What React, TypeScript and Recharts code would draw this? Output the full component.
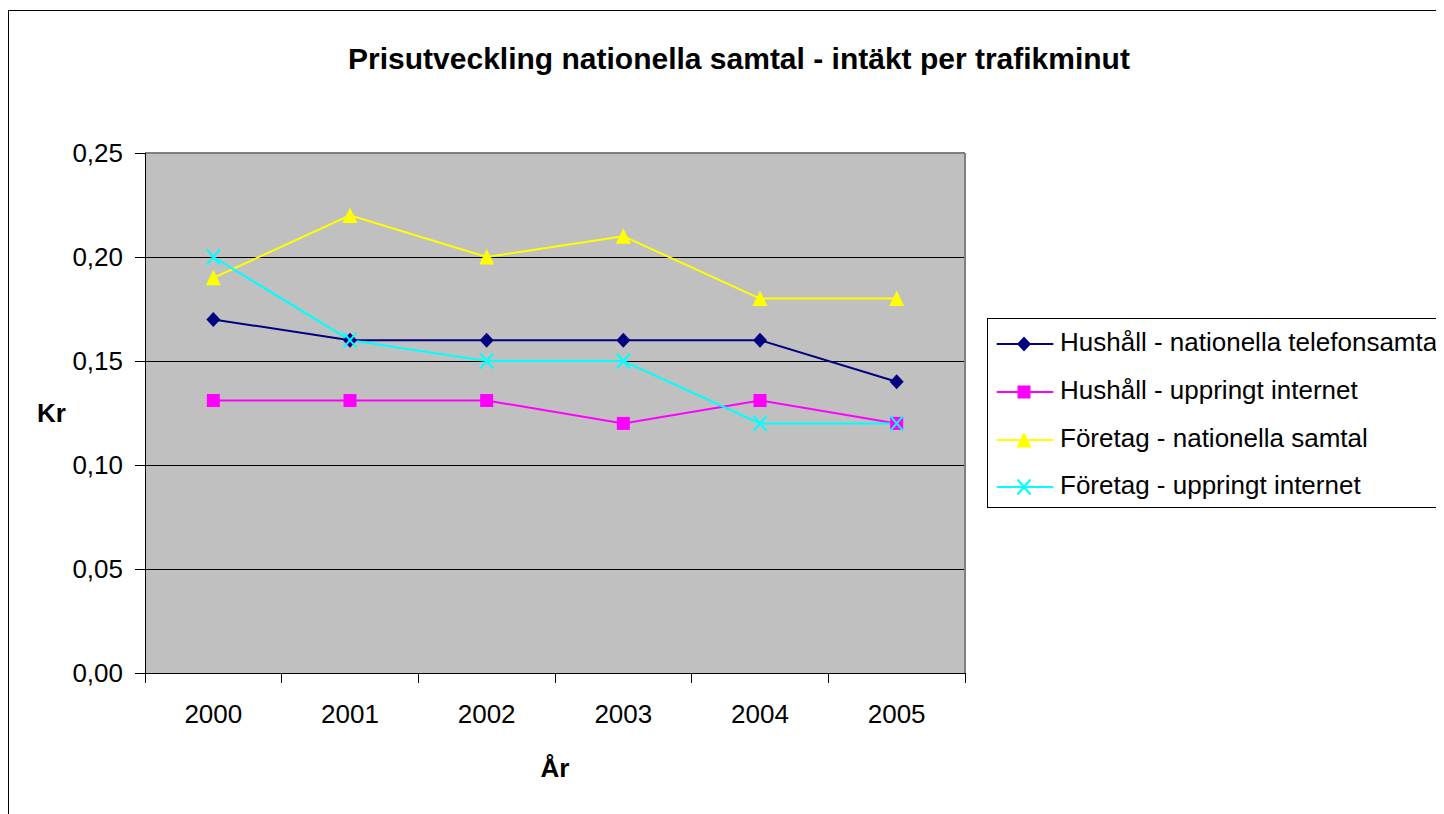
import {
  LineChart,
  Line,
  XAxis,
  YAxis,
  CartesianGrid,
  Legend,
  ReferenceLine,
  Label,
} from "recharts";

const years = ["2000", "2001", "2002", "2003", "2004", "2005"];
const hushallSamtal = [0.17, 0.16, 0.16, 0.16, 0.16, 0.14];
const hushallInternet = [0.131, 0.131, 0.131, 0.12, 0.131, 0.12];
const foretagSamtal = [0.19, 0.22, 0.2, 0.21, 0.18, 0.18];
const foretagInternet = [0.2, 0.16, 0.15, 0.15, 0.12, 0.12];
const yTicks = [0, 0.05, 0.1, 0.15, 0.2, 0.25];
const gridValues = [0.05, 0.1, 0.15, 0.2];

const FONT = "'Liberation Sans', Arial, sans-serif";
const PLOT_W = 820;
const BAND = PLOT_W / years.length;

const data = years.map((year, i) => ({
  x: i,
  year,
  hs: hushallSamtal[i],
  hi: hushallInternet[i],
  fs: foretagSamtal[i],
  fi: foretagInternet[i],
}));

type Shape = "diamond" | "square" | "triangle" | "cross";

const series: { key: string; name: string; color: string; shape: Shape }[] = [
  { key: "hs", name: "Hushåll - nationella telefonsamtal", color: "#000080", shape: "diamond" },
  { key: "hi", name: "Hushåll - uppringt internet", color: "#FF00FF", shape: "square" },
  { key: "fs", name: "Företag - nationella samtal", color: "#FFFF00", shape: "triangle" },
  { key: "fi", name: "Företag - uppringt internet", color: "#00FFFF", shape: "cross" },
];

function Marker({ shape, cx, cy, color }: { shape: Shape; cx: number; cy: number; color: string }) {
  if (cx == null || cy == null) return null;
  switch (shape) {
    case "diamond":
      return <polygon points={`${cx},${cy - 7.5} ${cx + 7},${cy} ${cx},${cy + 7.5} ${cx - 7},${cy}`} fill={color} />;
    case "square":
      return <rect x={cx - 6.5} y={cy - 6.5} width={13} height={13} fill={color} />;
    case "triangle":
      return <polygon points={`${cx},${cy - 8} ${cx + 7.5},${cy + 7.5} ${cx - 7.5},${cy + 7.5}`} fill={color} />;
    default:
      return (
        <path
          d={`M${cx - 6.5},${cy - 7.5}L${cx + 6.5},${cy + 7.5}M${cx + 6.5},${cy - 7.5}L${cx - 6.5},${cy + 7.5}`}
          stroke={color}
          strokeWidth={2}
          fill="none"
        />
      );
  }
}

// labels sit in the middle of each year, tick marks on the boundaries (Excel style)
function YearTick(props: any) {
  const { x, y, payload, index } = props;
  const half = BAND / 2;
  return (
    <g>
      <line x1={x - half} x2={x - half} y1={y} y2={y + 10} stroke="#000" shapeRendering="crispEdges" />
      {index === years.length - 1 && (
        <line x1={x + half} x2={x + half} y1={y} y2={y + 10} stroke="#000" shapeRendering="crispEdges" />
      )}
      <text x={x} y={y + 32} dy="0.71em" textAnchor="middle" fontSize={26} fill="#000" fontFamily={FONT}>
        {years[payload.value]}
      </text>
    </g>
  );
}

function LegendBox() {
  return (
    <div
      style={{
        width: 600,
        height: 190,
        boxSizing: "border-box",
        border: "1px solid #000",
        background: "#fff",
        paddingTop: 1.5,
        fontFamily: FONT,
        fontSize: 26,
        color: "#000",
      }}
    >
      {series.map((s) => (
        <div key={s.key} style={{ height: 47.7, display: "flex", alignItems: "center" }}>
          <svg width={72} height={20} style={{ flex: "none" }}>
            <line x1={8.7} x2={65.3} y1={10} y2={10} stroke={s.color} strokeWidth={2} />
            <Marker shape={s.shape} cx={36} cy={10} color={s.color} />
          </svg>
          <span style={{ whiteSpace: "nowrap", lineHeight: 1, position: "relative", top: -2 }}>{s.name}</span>
        </div>
      ))}
    </div>
  );
}

export default function App() {
  return (
    <div style={{ position: "relative", width: 1436, height: 806, overflow: "hidden", fontFamily: FONT }}>
      <style>{"html,body{overflow:hidden}"}</style>
      <div
        style={{
          position: "absolute",
          left: 0,
          top: 2,
          width: 1600,
          height: 1000,
          border: "1px solid #000",
        }}
      />
      <div
        style={{
          position: "absolute",
          left: 331,
          top: 36,
          width: 800,
          textAlign: "center",
          fontSize: 30,
          lineHeight: "30px",
          fontWeight: 700,
          color: "#000",
          whiteSpace: "nowrap",
        }}
      >
        Prisutveckling nationella samtal - intäkt per trafikminut
      </div>
      <LineChart
        width={1436}
        height={806}
        data={data}
        margin={{ top: 145, right: 479, bottom: 0, left: 0 }}
      >
        <CartesianGrid
          vertical={false}
          horizontalValues={gridValues}
          stroke="#000"
          fill="#C0C0C0"
          fillOpacity={1}
          shapeRendering="crispEdges"
        />
        <XAxis
          dataKey="x"
          type="number"
          domain={[-0.5, years.length - 0.5]}
          ticks={years.map((_, i) => i)}
          interval={0}
          height={141}
          axisLine={{ stroke: "#000", shapeRendering: "crispEdges" }}
          tickLine={false}
          tickSize={0}
          tickMargin={0}
          tick={<YearTick />}
        >
          <Label
            value="År"
            position="insideBottom"
            offset={37}
            fontSize={26}
            fontWeight={700}
            fill="#000"
            fontFamily={FONT}
          />
        </XAxis>
        <YAxis
          width={137}
          domain={[0, 0.25]}
          ticks={yTicks}
          interval={0}
          axisLine={{ stroke: "#000", shapeRendering: "crispEdges" }}
          tickLine={{ stroke: "#000", shapeRendering: "crispEdges" }}
          tickSize={10}
          tickMargin={12}
          tick={{ fontSize: 26, fill: "#000", fontFamily: FONT }}
          tickFormatter={(v: number) => v.toFixed(2).replace(".", ",")}
        >
          <Label
            value="Kr"
            position="insideLeft"
            offset={29}
            fontSize={26}
            fontWeight={700}
            fill="#000"
            fontFamily={FONT}
          />
        </YAxis>
        <ReferenceLine y={0.25} stroke="#808080" strokeWidth={2} />
        <ReferenceLine x={years.length - 0.5} stroke="#808080" strokeWidth={2} />
        {series.map((s) => (
          <Line
            key={s.key}
            type="linear"
            dataKey={s.key}
            name={s.name}
            stroke={s.color}
            strokeWidth={2}
            isAnimationActive={false}
            activeDot={false}
            dot={(p: any) => (
              <Marker key={`${s.key}-${p.index}`} shape={s.shape} cx={p.cx} cy={p.cy} color={s.color} />
            )}
          />
        ))}
        <Legend
          layout="horizontal"
          verticalAlign="middle"
          align="center"
          wrapperStyle={{ left: 979, top: 310, width: 600, height: 190 }}
          content={() => <LegendBox />}
        />
      </LineChart>
    </div>
  );
}
